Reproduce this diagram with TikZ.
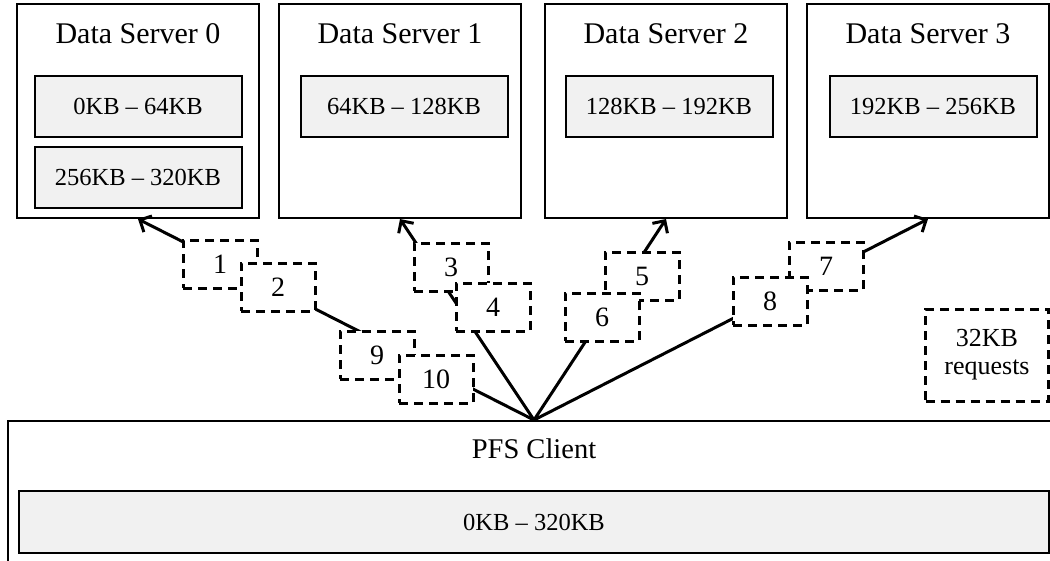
\documentclass[tikz,border=0pt]{standalone}
\usepackage{fontspec}
\setmainfont{Liberation Serif}
\usetikzlibrary{arrows.meta}
\definecolor{rangegray}{HTML}{F1F1F1}
\tikzset{
	server/.style={draw, line width=2pt, minimum width=242pt, minimum height=214pt, inner sep=0pt},
	rangebox/.style={draw, line width=2pt, fill=rangegray, minimum width=207pt, minimum height=61pt, inner sep=0pt, font=\fontsize{24.5}{28}\selectfont},
	boxtitle/.style={inner sep=0pt, font=\fontsize{30}{34}\selectfont},
	request/.style={draw, fill=white, line width=3pt, dash pattern=on 9pt off 6pt, minimum width=74pt, minimum height=48pt, inner sep=0pt, font=\fontsize{28}{32}\selectfont},
	conn/.style={line width=3pt, -{Straight Barb[length=9pt,width=18pt]}},
}

\begin{document}
\begin{tikzpicture}[x=1pt, y=-1pt]
			%%%%% START %%%%%
			\useasboundingbox (0,0) rectangle (1050,560);
			\clip (0,0) rectangle (1050,560);
			
			\node[server] (s0) at (138,111) {};
			\node[boxtitle] (t0) at (138,34) {Data Server 0};
			\node[rangebox] (a0) at (138,106.5) {0KB -- 64KB};
			\node[rangebox] (b0) at (138,177.5) {256KB -- 320KB};
			
			\node[server] (s1) at (400,111) {};
			\node[boxtitle] (t1) at (400,34) {Data Server 1};
			\node[rangebox] (a1) at (404,106.5) {64KB -- 128KB};
			
			\node[server] (s2) at (666,111) {};
			\node[boxtitle] (t2) at (666,34) {Data Server 2};
			\node[rangebox] (a2) at (669,106.5) {128KB -- 192KB};
			
			\node[server] (s3) at (928,111) {};
			\node[boxtitle] (t3) at (928,34) {Data Server 3};
			\node[rangebox] (a3) at (933,106.5) {192KB -- 256KB};
			
			\node[server, minimum width=1052pt, minimum height=144pt] (client) at (534,493) {};
			\node[boxtitle, font=\fontsize{28.5}{32}\selectfont] (ct) at (534,449) {PFS Client};
			\node[rangebox, minimum width=1030pt, minimum height=62pt] (crange) at (534,522) {0KB -- 320KB};
			
			\draw[conn] (client.north) -- (s0.south);
			\draw[conn] (client.north) -- (s1.south);
			\draw[conn] (client.north) -- (s2.south);
			\draw[conn] (client.north) -- (s3.south);
			
			\node[request] (r1) at (220,264) {1};
			\node[request] (r2) at (278,287) {2};
			\node[request] (r3) at (451,267) {3};
			\node[request] (r4) at (493,307) {4};
			\node[request] (r5) at (642,276) {5};
			\node[request] (r6) at (602,317) {6};
			\node[request] (r7) at (826,266) {7};
			\node[request] (r8) at (770,301) {8};
			\node[request] (r9) at (377,355) {9};
			\node[request] (r10) at (436,379) {10};
			
			\node[request, minimum width=123pt, minimum height=92pt, align=center, font=\fontsize{26}{28}\selectfont] (key) at (987,355) {32KB\\requests};
			
			%%%%% END %%%%%
\end{tikzpicture}
\end{document}
